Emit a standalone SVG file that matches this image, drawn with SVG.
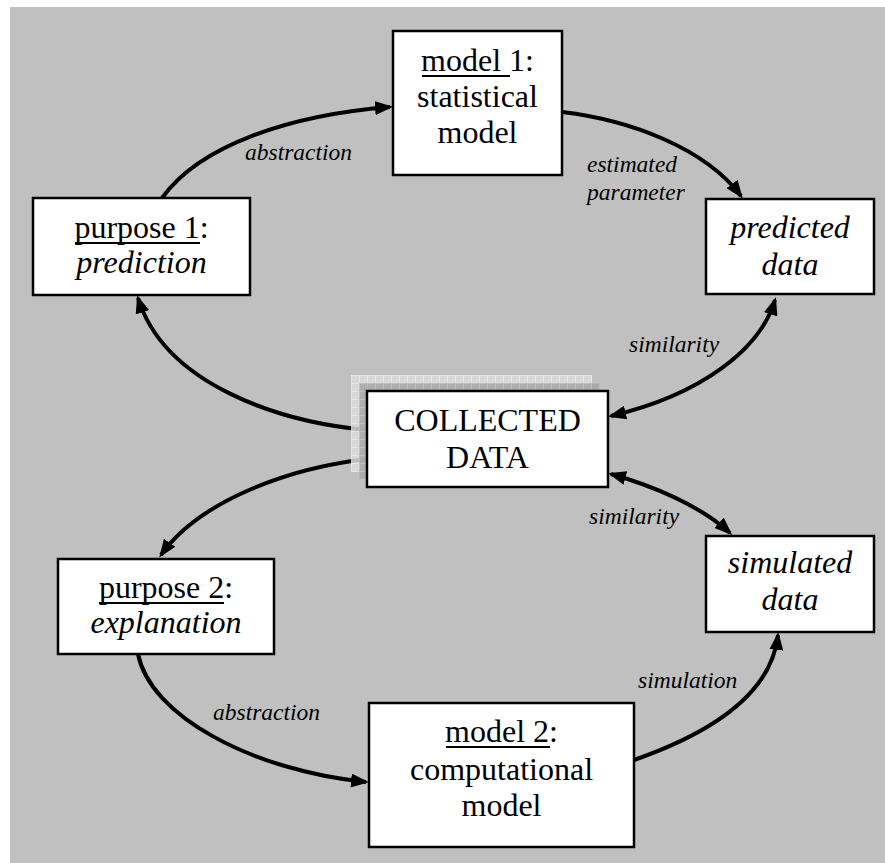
<svg xmlns="http://www.w3.org/2000/svg" width="885" height="863" viewBox="0 0 885 863">
<style>
.box{fill:#fff;stroke:#000;stroke-width:2.5}
.nt{font-size:32px;fill:#000;text-anchor:middle}
.it{font-style:italic}
.lb{font-size:23.5px;font-style:italic;fill:#000}
.ul{stroke:#000;stroke-width:2}
.c{fill:none;stroke:#000;stroke-width:4}
.e{marker-end:url(#ah)}
.s{marker-start:url(#ah)}
</style>
<defs>
<marker id="ah" viewBox="0 0 18 14" markerUnits="userSpaceOnUse" markerWidth="18" markerHeight="14" refX="15" refY="7" orient="auto-start-reverse">
<path d="M0,0 L18,7 L0,14 z" fill="#000"/>
</marker>
<pattern id="pl" width="8" height="8" patternUnits="userSpaceOnUse" x="351" y="375">
<rect width="8" height="8" fill="#dcdcdc"/>
<path d="M0,0.5H8M0.5,0V8" stroke="#ececec" stroke-width="1"/>
</pattern>
<pattern id="pd" width="8" height="8" patternUnits="userSpaceOnUse" x="359" y="383">
<rect width="8" height="8" fill="#a6a6a6"/>
<path d="M0,0.5H8M0.5,0V8" stroke="#b8b8b8" stroke-width="1"/>
</pattern>
</defs>
<rect x="10" y="7" width="875" height="856" fill="#c0c0c0"/>
<g id="connectors">
<path class="c e" d="M162,198 C200,145 290,115 390,107"/>
<path class="c e" d="M562,112 C630,120 705,148 741,196"/>
<path class="c e" d="M367,430 C280,422 165,385 138,298"/>
<path class="c e" d="M367,459 C290,468 200,500 161,555"/>
<path class="c s e" d="M775,300 C760,350 700,395 611,416"/>
<path class="c s e" d="M611,474 C650,485 700,505 730,533"/>
<path class="c e" d="M138,654 C150,715 250,770 366,782"/>
<path class="c e" d="M634,760 C720,730 772,690 778,635"/>
</g>
<g font-family="Liberation Serif, DejaVu Serif, serif">
<g id="labels">
<text class="lb" x="245" y="160">abstraction</text>
<text class="lb" x="587" y="172">estimated</text>
<text class="lb" x="587" y="200">parameter</text>
<text class="lb" x="629" y="352">similarity</text>
<text class="lb" x="589" y="524">similarity</text>
<text class="lb" x="638" y="688">simulation</text>
<text class="lb" x="213" y="720">abstraction</text>
</g>
<g id="model1">
<rect class="box" x="393" y="31" width="169" height="144"/>
<text class="nt" x="477.5" y="71">model 1:</text>
<line class="ul" x1="422" y1="76" x2="510" y2="76"/>
<text class="nt" x="477.5" y="107">statistical</text>
<text class="nt" x="477.5" y="143">model</text>
</g>
<g id="purpose1">
<rect class="box" x="33" y="198" width="217" height="97"/>
<text class="nt" x="141.5" y="238">purpose 1:</text>
<line class="ul" x1="75" y1="243" x2="200" y2="243"/>
<text class="nt it" x="141.5" y="273">prediction</text>
</g>
<g id="predicted">
<rect class="box" x="706" y="199" width="168" height="95"/>
<text class="nt it" x="790" y="238">predicted</text>
<text class="nt it" x="790" y="275">data</text>
</g>
<g id="collected">
<rect x="351" y="375" width="241" height="97" fill="url(#pl)" opacity="0.85"/>
<rect x="359" y="383" width="241" height="96" fill="url(#pd)" opacity="0.85"/>
<rect class="box" x="367" y="391" width="241" height="96"/>
<text class="nt" x="487.5" y="431">COLLECTED</text>
<text class="nt" x="487.5" y="468">DATA</text>
</g>
<g id="purpose2">
<rect class="box" x="58" y="559" width="216" height="95"/>
<text class="nt" x="166" y="598">purpose 2:</text>
<line class="ul" x1="99" y1="603" x2="224" y2="603"/>
<text class="nt it" x="166" y="633">explanation</text>
</g>
<g id="simulated">
<rect class="box" x="706" y="536" width="168" height="96"/>
<text class="nt it" x="790" y="573">simulated</text>
<text class="nt it" x="790" y="610">data</text>
</g>
<g id="model2">
<rect class="box" x="369" y="703" width="265" height="144"/>
<text class="nt" x="501.5" y="742">model 2:</text>
<line class="ul" x1="446" y1="747" x2="550" y2="747"/>
<text class="nt" x="501.5" y="780">computational</text>
<text class="nt" x="501.5" y="816">model</text>
</g>
</g>
</svg>
